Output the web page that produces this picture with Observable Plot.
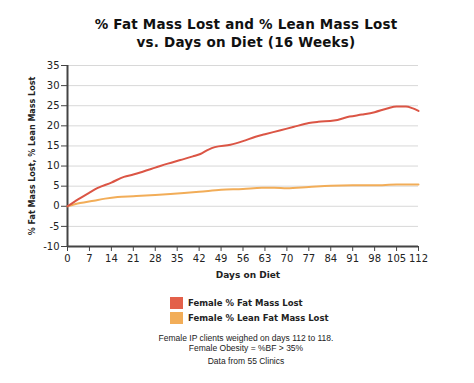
<!DOCTYPE html>
<html><head><meta charset="utf-8">
<script src="https://cdn.jsdelivr.net/npm/d3@7"></script>
<script src="https://cdn.jsdelivr.net/npm/@observablehq/plot@0.6"></script>
<style>
body{margin:0;background:#fff;width:474px;height:383px;position:relative;overflow:hidden;font-family:"DejaVu Sans",sans-serif;color:#111}
#title{position:absolute;left:18px;width:456px;top:15px;text-align:center;font-weight:bold;font-size:13.5px;line-height:18px;letter-spacing:0.2px}
#chart{position:absolute;left:0;top:55px}
.leg{position:absolute;left:170px;font-weight:bold;font-size:8.5px;color:#222;display:flex;align-items:center}
.sw{width:13px;height:12px;margin-right:5px}
.cap{position:absolute;left:18px;width:456px;text-align:center;font-family:"Liberation Sans",Arial,sans-serif;font-size:8.5px;color:#222}
</style></head>
<body>
<div id="title">% Fat Mass Lost and % Lean Mass Lost<br>vs. Days on Diet (16 Weeks)</div>
<div id="chart"></div>
<div class="leg" style="top:297px"><div class="sw" style="background:#e3604a"></div>Female % Fat Mass Lost</div>
<div class="leg" style="top:312px"><div class="sw" style="background:#f2ad58"></div>Female % Lean Fat Mass Lost</div>
<div class="cap" style="top:333px">Female IP clients weighed on days 112 to 118.</div>
<div class="cap" style="top:343px">Female Obesity = %BF &gt; 35%</div>
<div class="cap" style="top:356px">Data from 55 Clinics</div>
<script>
const fatDays = [0,3.5,7,9.5,14,18,21,24,28,32,36,40,42.4,45,47,52,56,60,63,68,72,77,80,85,90,94,98,102,105,108,110,112];
const fatLost = [0,1.8,3.4,4.5,5.9,7.3,7.9,8.6,9.6,10.6,11.5,12.4,13.0,14.1,14.7,15.3,16.2,17.3,17.9,18.9,19.7,20.7,21.0,21.3,22.3,22.8,23.4,24.3,24.8,24.8,24.4,23.7];
const leanDays = [0,4,8.4,12,16,21,28,35,42,49,56,62,66,70,77,84,91,98,105,112];
const leanLost = [0,0.8,1.4,1.9,2.3,2.5,2.8,3.2,3.6,4.1,4.3,4.6,4.6,4.5,4.8,5.1,5.2,5.2,5.4,5.4];
const xTicks = [0,7,14,21,28,35,42,49,56,63,70,77,84,91,98,105,112];
const yTicks = [-10,-5,0,5,10,15,20,25,30,35];

const fat = fatDays.map((d,i)=>({day:d, v:fatLost[i]}));
const lean = leanDays.map((d,i)=>({day:d, v:leanLost[i]}));

const chart = Plot.plot({
  width:474, height:240,
  marginLeft:67, marginRight:56, marginTop:10, marginBottom:49,
  style:{fontFamily:"DejaVu Sans, sans-serif", fontSize:"10px", color:"#222", background:"transparent"},
  x:{domain:[0,112]},
  y:{domain:[-10,35]},
  marks:[
    Plot.gridY(yTicks,{stroke:"#d8d8d8", strokeOpacity:1, strokeWidth:1}),
    Plot.axisY(yTicks,{tickSize:6, tickPadding:2, stroke:"#444", tickFormat:d=>String(d), label:null}),
    Plot.text(["% Fat Mass Lost, % Lean Mass Lost"],{frameAnchor:"left", textAnchor:"middle", dx:-35, rotate:-90, fontSize:8, fontWeight:"bold", fill:"#222"}),
    Plot.axisX(xTicks,{tickSize:5, tickPadding:3, stroke:"#444", label:null}),
    Plot.text(["Days on Diet"],{frameAnchor:"bottom", dy:31, dx:5, fontSize:9, fontWeight:"bold", fill:"#222"}),
    Plot.ruleX([0],{stroke:"#444", strokeWidth:2}),
    Plot.ruleY([-10],{stroke:"#444", strokeWidth:2}),
    Plot.line(lean,{x:"day", y:"v", stroke:"#f2ad58", strokeWidth:2, curve:"monotone-x"}),
    Plot.line(fat,{x:"day", y:"v", stroke:"#db5545", strokeWidth:2, curve:"monotone-x"})
  ]
});
document.getElementById("chart").appendChild(chart);
</script>
</body></html>
